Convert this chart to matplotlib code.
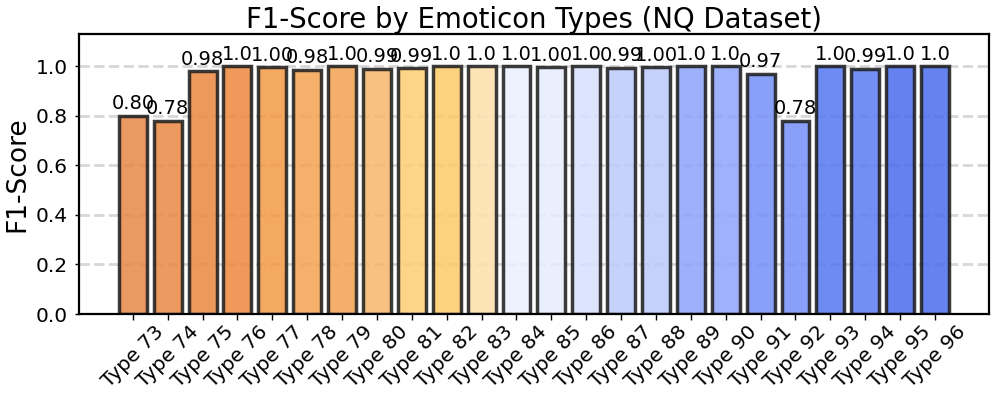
import matplotlib
matplotlib.use("Agg")
import matplotlib.pyplot as plt
import numpy as np
from matplotlib.colors import to_rgb

categories = [f"Type {i}" for i in range(73, 97)]
f1_scores = [0.80, 0.78, 0.98, 1.0, 0.995, 0.985, 1.0, 0.99, 0.992, 1.0, 1.0, 1.0,
             0.996, 1.0, 0.993, 0.996, 1.0, 1.0, 0.97, 0.78, 1.0, 0.99, 1.0, 1.0]
bar_labels = ["0.80", "0.78", "0.98", "1.0", "1.00", "0.98", "1.0", "0.99", "0.99", "1.0", "1.0", "1.0",
              "1.00", "1.0", "0.99", "1.00", "1.0", "1.0", "0.97", "0.78", "1.0", "0.99", "1.0", "1.0"]

seen_colors = ["#E99A62", "#EC9B60", "#EF995C", "#F09A5A", "#F5A963", "#F6B06C", "#F5B06A", "#F7C281",
               "#FDD588", "#FDD27F", "#FEE4B8", "#EEF2FE", "#EBF0FE", "#DDE5FD", "#C7D3FC", "#C5D1FC",
               "#9DB1FA", "#9EB2FB", "#8AA0F8", "#8AA0F8", "#6E8BF3", "#7390F5", "#6481F0", "#6682F0"]
alpha = 0.85
base_colors = [tuple(np.clip((np.array(to_rgb(c)) - (1 - alpha)) / alpha, 0, 1)) for c in seen_colors]

fig = plt.figure(figsize=(9.97, 3.99), dpi=100)
ax = fig.add_axes([0.079, 0.213, 0.913, 0.702])

x = np.arange(len(categories))
ax.yaxis.grid(True, linestyle="--", color="lightgray", linewidth=2, alpha=0.9)
ax.set_axisbelow(True)
bars = ax.bar(x, f1_scores, width=0.8, color=base_colors, alpha=alpha,
              edgecolor="#1a1a1a", linewidth=2.5)
for b in bars:
    b.set_edgecolor((0.1, 0.1, 0.1, 0.95))

for xi, v, lab in zip(x, f1_scores, bar_labels):
    ax.text(xi, v + 0.01, lab, ha="center", va="bottom", fontsize=14)

ax.set_xlim(-1.55, len(categories) - 1 + 1.55)
ax.set_ylim(0, 1.13)
ax.set_xticks(x)
ax.set_xticklabels(categories, rotation=45, fontsize=14.5)
ax.set_yticks([0.0, 0.2, 0.4, 0.6, 0.8, 1.0])
ax.tick_params(axis="y", labelsize=14.5, length=3, width=1, pad=5)
ax.tick_params(axis="x", length=4, width=1, pad=2)
for s in ax.spines.values():
    s.set_linewidth(1.6)
ax.set_ylabel("F1-Score", fontsize=19)
ax.set_title("F1-Score by Emoticon Types (NQ Dataset)", fontsize=19.8, pad=4)

fig.savefig("out.png", dpi=100)
